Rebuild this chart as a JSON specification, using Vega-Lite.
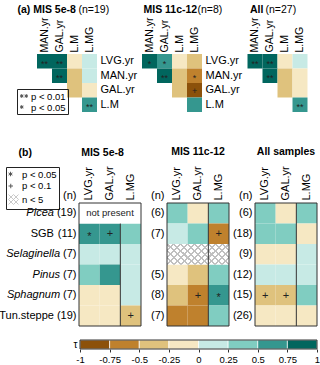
{
  "$schema": "https://vega.github.io/schema/vega-lite/v6.json",
  "autosize": "none",
  "padding": {"left": 79, "top": 54, "right": 241, "bottom": 311},
  "background": "white",
  "config": {
    "font": "Liberation Sans",
    "view": {"stroke": null},
    "axis": {"labelColor": "#000", "titleColor": "#000"},
    "legend": {"labelColor": "#000"},
    "title": {"color": "#000"}
  },
  "datasets": {
    "a": [
      {"p": "5e-8", "r": "LVG.yr", "c": "MAN.yr", "tau": 0.875, "sig": "**"},
      {"p": "5e-8", "r": "LVG.yr", "c": "GAL.yr", "tau": 0.875, "sig": "**"},
      {"p": "5e-8", "r": "LVG.yr", "c": "L.M", "tau": -0.125},
      {"p": "5e-8", "r": "LVG.yr", "c": "L.MG", "tau": 0.125},
      {"p": "5e-8", "r": "MAN.yr", "c": "GAL.yr", "tau": 0.875, "sig": "**"},
      {"p": "5e-8", "r": "MAN.yr", "c": "L.M", "tau": -0.375},
      {"p": "5e-8", "r": "MAN.yr", "c": "L.MG", "tau": 0.125},
      {"p": "5e-8", "r": "GAL.yr", "c": "L.M", "tau": -0.375},
      {"p": "5e-8", "r": "GAL.yr", "c": "L.MG", "tau": -0.125},
      {"p": "5e-8", "r": "L.M", "c": "L.MG", "tau": 0.625, "sig": "**"},
      {"p": "11c-12", "r": "LVG.yr", "c": "MAN.yr", "tau": 0.875, "sig": "*"},
      {"p": "11c-12", "r": "LVG.yr", "c": "GAL.yr", "tau": 0.625, "sig": "*"},
      {"p": "11c-12", "r": "LVG.yr", "c": "L.M", "tau": -0.125},
      {"p": "11c-12", "r": "LVG.yr", "c": "L.MG", "tau": -0.375},
      {"p": "11c-12", "r": "MAN.yr", "c": "GAL.yr", "tau": 0.875, "sig": "**"},
      {"p": "11c-12", "r": "MAN.yr", "c": "L.M", "tau": -0.375},
      {"p": "11c-12", "r": "MAN.yr", "c": "L.MG", "tau": -0.625, "sig": "*"},
      {"p": "11c-12", "r": "GAL.yr", "c": "L.M", "tau": -0.375},
      {"p": "11c-12", "r": "GAL.yr", "c": "L.MG", "tau": -0.875, "sig": "+"},
      {"p": "11c-12", "r": "L.M", "c": "L.MG", "tau": 0.625},
      {"p": "All", "r": "LVG.yr", "c": "MAN.yr", "tau": 0.875, "sig": "**"},
      {"p": "All", "r": "LVG.yr", "c": "GAL.yr", "tau": 0.875, "sig": "**"},
      {"p": "All", "r": "LVG.yr", "c": "L.M", "tau": -0.125},
      {"p": "All", "r": "LVG.yr", "c": "L.MG", "tau": 0.125},
      {"p": "All", "r": "MAN.yr", "c": "GAL.yr", "tau": 0.875, "sig": "**"},
      {"p": "All", "r": "MAN.yr", "c": "L.M", "tau": -0.375},
      {"p": "All", "r": "MAN.yr", "c": "L.MG", "tau": -0.125},
      {"p": "All", "r": "GAL.yr", "c": "L.M", "tau": -0.375},
      {"p": "All", "r": "GAL.yr", "c": "L.MG", "tau": -0.125},
      {"p": "All", "r": "L.M", "c": "L.MG", "tau": 0.625, "sig": "**"}
    ],
    "b": [
      {"p": "5e-8", "k": "Picea (19)", "v": null, "tau": null, "s": "np"},
      {"p": "5e-8", "k": "SGB (11)", "v": "LVG.yr", "tau": 0.625, "sig": "*"},
      {"p": "5e-8", "k": "SGB (11)", "v": "GAL.yr", "tau": 0.625, "sig": "+"},
      {"p": "5e-8", "k": "SGB (11)", "v": "L.MG", "tau": 0.375},
      {"p": "5e-8", "k": "Selaginella (7)", "v": "LVG.yr", "tau": 0.125},
      {"p": "5e-8", "k": "Selaginella (7)", "v": "GAL.yr", "tau": 0.125},
      {"p": "5e-8", "k": "Selaginella (7)", "v": "L.MG", "tau": 0.125},
      {"p": "5e-8", "k": "Pinus (7)", "v": "LVG.yr", "tau": 0.375},
      {"p": "5e-8", "k": "Pinus (7)", "v": "GAL.yr", "tau": 0.625},
      {"p": "5e-8", "k": "Pinus (7)", "v": "L.MG", "tau": 0.125},
      {"p": "5e-8", "k": "Sphagnum (7)", "v": "LVG.yr", "tau": -0.125},
      {"p": "5e-8", "k": "Sphagnum (7)", "v": "GAL.yr", "tau": -0.125},
      {"p": "5e-8", "k": "Sphagnum (7)", "v": "L.MG", "tau": 0.125},
      {"p": "5e-8", "k": "Tun.steppe (19)", "v": "LVG.yr", "tau": -0.125},
      {"p": "5e-8", "k": "Tun.steppe (19)", "v": "GAL.yr", "tau": -0.125},
      {"p": "5e-8", "k": "Tun.steppe (19)", "v": "L.MG", "tau": -0.375, "sig": "+"},
      {"p": "11c-12", "k": "Picea (6)", "v": "LVG.yr", "tau": 0.375},
      {"p": "11c-12", "k": "Picea (6)", "v": "GAL.yr", "tau": -0.125},
      {"p": "11c-12", "k": "Picea (6)", "v": "L.MG", "tau": 0.375},
      {"p": "11c-12", "k": "SGB (7)", "v": "LVG.yr", "tau": 0.125},
      {"p": "11c-12", "k": "SGB (7)", "v": "GAL.yr", "tau": 0.375},
      {"p": "11c-12", "k": "SGB (7)", "v": "L.MG", "tau": -0.625, "sig": "+"},
      {"p": "11c-12", "k": "Selaginella", "v": "LVG.yr", "tau": null, "s": "hatch"},
      {"p": "11c-12", "k": "Selaginella", "v": "GAL.yr", "tau": null, "s": "hatch"},
      {"p": "11c-12", "k": "Selaginella", "v": "L.MG", "tau": null, "s": "hatch"},
      {"p": "11c-12", "k": "Pinus (5)", "v": "LVG.yr", "tau": -0.125},
      {"p": "11c-12", "k": "Pinus (5)", "v": "GAL.yr", "tau": -0.375},
      {"p": "11c-12", "k": "Pinus (5)", "v": "L.MG", "tau": 0.375},
      {"p": "11c-12", "k": "Sphagnum (8)", "v": "LVG.yr", "tau": -0.375},
      {"p": "11c-12", "k": "Sphagnum (8)", "v": "GAL.yr", "tau": -0.625, "sig": "+"},
      {"p": "11c-12", "k": "Sphagnum (8)", "v": "L.MG", "tau": 0.625, "sig": "*"},
      {"p": "11c-12", "k": "Tun.steppe (7)", "v": "LVG.yr", "tau": -0.625},
      {"p": "11c-12", "k": "Tun.steppe (7)", "v": "GAL.yr", "tau": -0.625},
      {"p": "11c-12", "k": "Tun.steppe (7)", "v": "L.MG", "tau": 0.375},
      {"p": "All", "k": "Picea (6)", "v": "LVG.yr", "tau": 0.375},
      {"p": "All", "k": "Picea (6)", "v": "GAL.yr", "tau": -0.125},
      {"p": "All", "k": "Picea (6)", "v": "L.MG", "tau": 0.375},
      {"p": "All", "k": "SGB (18)", "v": "LVG.yr", "tau": 0.375},
      {"p": "All", "k": "SGB (18)", "v": "GAL.yr", "tau": 0.375},
      {"p": "All", "k": "SGB (18)", "v": "L.MG", "tau": -0.125},
      {"p": "All", "k": "Selaginella (9)", "v": "LVG.yr", "tau": -0.125},
      {"p": "All", "k": "Selaginella (9)", "v": "GAL.yr", "tau": -0.125},
      {"p": "All", "k": "Selaginella (9)", "v": "L.MG", "tau": 0.125},
      {"p": "All", "k": "Pinus (12)", "v": "LVG.yr", "tau": 0.125},
      {"p": "All", "k": "Pinus (12)", "v": "GAL.yr", "tau": 0.125},
      {"p": "All", "k": "Pinus (12)", "v": "L.MG", "tau": 0.125},
      {"p": "All", "k": "Sphagnum (15)", "v": "LVG.yr", "tau": -0.375, "sig": "+"},
      {"p": "All", "k": "Sphagnum (15)", "v": "GAL.yr", "tau": -0.375, "sig": "+"},
      {"p": "All", "k": "Sphagnum (15)", "v": "L.MG", "tau": 0.375},
      {"p": "All", "k": "Tun.steppe (26)", "v": "LVG.yr", "tau": -0.125},
      {"p": "All", "k": "Tun.steppe (26)", "v": "GAL.yr", "tau": -0.125},
      {"p": "All", "k": "Tun.steppe (26)", "v": "L.MG", "tau": -0.125}
    ],
    "cb": [
      {"lo": -1, "hi": -0.75, "mid": -0.875, "g": "τ"},
      {"lo": -0.75, "hi": -0.5, "mid": -0.625, "g": "τ"},
      {"lo": -0.5, "hi": -0.25, "mid": -0.375, "g": "τ"},
      {"lo": -0.25, "hi": 0, "mid": -0.125, "g": "τ"},
      {"lo": 0, "hi": 0.25, "mid": 0.125, "g": "τ"},
      {"lo": 0.25, "hi": 0.5, "mid": 0.375, "g": "τ"},
      {"lo": 0.5, "hi": 0.75, "mid": 0.625, "g": "τ"},
      {"lo": 0.75, "hi": 1, "mid": 0.875, "g": "τ"}
    ]
  },
  "columns": 3,
  "align": "none",
  "bounds": "flush",
  "spacing": {"row": 14, "column": 26},
  "resolve": {
    "scale": {"color": "shared", "shape": "independent", "stroke": "independent"},
    "legend": {"shape": "independent", "stroke": "independent"}
  },
  "concat": [
    {
      "width": 18, "height": 135,
      "data": {"name": "a"},
      "transform": [{"filter": "datum.p === '5e-8'"}],
      "layer": [
        {
          "mark": {"type": "rect"},
          "encoding": {
            "x": {"field": "c", "type": "nominal", "scale": {"domain": ["MAN.yr", "GAL.yr", "L.M", "L.MG"], "range": [-42, 18], "paddingInner": 0, "paddingOuter": 0}, "axis": {"orient": "top", "labelAngle": -90, "ticks": false, "domain": false, "labelPadding": 2, "labelFontSize": 10.5, "title": "(n=19)", "titleX": -1, "titleY": -42, "titleAngle": 0, "titleAlign": "left", "titleBaseline": "alphabetic", "titleFontWeight": "normal", "titleFontSize": 10.5}},
            "y": {"field": "r", "type": "nominal", "scale": {"domain": ["LVG.yr", "MAN.yr", "GAL.yr", "L.M"], "range": [0, 58], "paddingInner": 0, "paddingOuter": 0}, "axis": {"orient": "right", "ticks": false, "domain": false, "labelPadding": 3, "labelFontSize": 11, "title": "(a) MIS 5e-8", "titleX": -80, "titleY": -42, "titleAngle": 0, "titleAlign": "left", "titleBaseline": "alphabetic", "titleFontWeight": "bold", "titleFontSize": 10.5}},
            "color": {"field": "tau", "type": "quantitative", "scale": {"type": "threshold", "domain": [-0.75, -0.5, -0.25, 0, 0.25, 0.5, 0.75], "range": ["#8c510a", "#bf812d", "#dfc27d", "#f6e8c3", "#c7eae5", "#80cdc1", "#35978f", "#01665e"]}, "legend": null}
          }
        },
        {
          "transform": [{"filter": "datum.sig === '**' || datum.sig === '*'"}],
          "mark": {"type": "text", "fontSize": 9, "dy": 2.5, "color": "#222"},
          "encoding": {"x": {"field": "c", "type": "nominal"}, "y": {"field": "r", "type": "nominal"}, "text": {"field": "sig", "type": "nominal"}}
        },
        {
          "data": {"values": []},
          "mark": {"type": "point", "filled": false, "color": "black", "strokeWidth": 0.9},
          "encoding": {
            "shape": {"field": "lab", "type": "nominal", "scale": {"domain": ["p < 0.01", "p < 0.05"], "range": ["M-0.55,-0.5L-0.55,0.3M-0.896,-0.3L-0.204,0.1M-0.896,0.1L-0.204,-0.3M0.35,-0.5L0.35,0.3M0.004,-0.3L0.696,0.1M0.004,0.1L0.696,-0.3", "M-0.55,-0.5L-0.55,0.3M-0.896,-0.3L-0.204,0.1M-0.896,0.1L-0.204,-0.3"]},
              "legend": {"orient": "none", "legendX": -62, "legendY": 35, "title": null, "strokeColor": "#222", "padding": 2, "labelFontSize": 9.5, "symbolSize": 100, "symbolStrokeWidth": 0.9, "symbolStrokeColor": "black", "rowPadding": 1, "labelOffset": 1}}
          }
        }
      ]
    },
    {
      "width": 35, "height": 135,
      "data": {"name": "a"},
      "transform": [{"filter": "datum.p === '11c-12'"}],
      "layer": [
        {
          "mark": {"type": "rect"},
          "encoding": {
            "x": {"field": "c", "type": "nominal", "scale": {"domain": ["MAN.yr", "GAL.yr", "L.M", "L.MG"], "range": [-25, 35], "paddingInner": 0, "paddingOuter": 0}, "axis": {"orient": "top", "labelAngle": -90, "ticks": false, "domain": false, "labelPadding": 2, "labelFontSize": 10.5, "title": "(n=8)", "titleX": 30, "titleY": -42, "titleAngle": 0, "titleAlign": "left", "titleBaseline": "alphabetic", "titleFontWeight": "normal", "titleFontSize": 10.5}},
            "y": {"field": "r", "type": "nominal", "scale": {"domain": ["LVG.yr", "MAN.yr", "GAL.yr", "L.M"], "range": [0, 58], "paddingInner": 0, "paddingOuter": 0}, "axis": {"orient": "right", "ticks": false, "domain": false, "labelPadding": 3, "labelFontSize": 11, "title": "MIS 11c-12", "titleX": -59, "titleY": -42, "titleAngle": 0, "titleAlign": "left", "titleBaseline": "alphabetic", "titleFontWeight": "bold", "titleFontSize": 10.5}},
            "color": {"field": "tau", "type": "quantitative", "scale": {"type": "threshold", "domain": [-0.75, -0.5, -0.25, 0, 0.25, 0.5, 0.75], "range": ["#8c510a", "#bf812d", "#dfc27d", "#f6e8c3", "#c7eae5", "#80cdc1", "#35978f", "#01665e"]}, "legend": null}
          }
        },
        {
          "transform": [{"filter": "datum.sig === '**' || datum.sig === '*'"}],
          "mark": {"type": "text", "fontSize": 9, "dy": 2.5, "color": "#222"},
          "encoding": {"x": {"field": "c", "type": "nominal"}, "y": {"field": "r", "type": "nominal"}, "text": {"field": "sig", "type": "nominal"}}
        },
        {
          "transform": [{"filter": "datum.sig === '+'"}],
          "mark": {"type": "text", "fontSize": 9, "dy": 0.5, "color": "#222"},
          "encoding": {"x": {"field": "c", "type": "nominal"}, "y": {"field": "r", "type": "nominal"}, "text": {"field": "sig", "type": "nominal"}}
        }
      ]
    },
    {
      "width": 52.5, "height": 135,
      "data": {"name": "a"},
      "transform": [{"filter": "datum.p === 'All'"}],
      "layer": [
        {
          "mark": {"type": "rect"},
          "encoding": {
            "x": {"field": "c", "type": "nominal", "scale": {"domain": ["MAN.yr", "GAL.yr", "L.M", "L.MG"], "range": [-7.5, 52.5], "paddingInner": 0, "paddingOuter": 0}, "axis": {"orient": "top", "labelAngle": -90, "ticks": false, "domain": false, "labelPadding": 2, "labelFontSize": 10.5, "title": "(n=27)", "titleX": 10, "titleY": -42, "titleAngle": 0, "titleAlign": "left", "titleBaseline": "alphabetic", "titleFontWeight": "normal", "titleFontSize": 10.5}},
            "y": {"field": "r", "type": "nominal", "scale": {"domain": ["LVG.yr", "MAN.yr", "GAL.yr", "L.M"], "range": [0, 58], "paddingInner": 0, "paddingOuter": 0}, "axis": {"orient": "right", "labels": false, "ticks": false, "domain": false, "title": "All", "titleX": -58, "titleY": -42, "titleAngle": 0, "titleAlign": "left", "titleBaseline": "alphabetic", "titleFontWeight": "bold", "titleFontSize": 10.5}},
            "color": {"field": "tau", "type": "quantitative", "scale": {"type": "threshold", "domain": [-0.75, -0.5, -0.25, 0, 0.25, 0.5, 0.75], "range": ["#8c510a", "#bf812d", "#dfc27d", "#f6e8c3", "#c7eae5", "#80cdc1", "#35978f", "#01665e"]}, "legend": null}
          }
        },
        {
          "transform": [{"filter": "datum.sig === '**' || datum.sig === '*'"}],
          "mark": {"type": "text", "fontSize": 9, "dy": 2.5, "color": "#222"},
          "encoding": {"x": {"field": "c", "type": "nominal"}, "y": {"field": "r", "type": "nominal"}, "text": {"field": "sig", "type": "nominal"}}
        }
      ]
    },
    {
      "width": 62, "height": 123,
      "data": {"name": "b"},
      "transform": [{"filter": "datum.p === '5e-8'"}],
      "resolve": {"axis": {"y": "independent"}},
      "layer": [
        {
          "transform": [{"filter": "isValid(datum.tau)"}],
          "mark": {"type": "rect"},
          "encoding": {
            "x": {"field": "v", "type": "nominal", "scale": {"domain": ["LVG.yr", "GAL.yr", "L.MG"], "paddingInner": 0, "paddingOuter": 0}, "axis": {"orient": "top", "labelAngle": -90, "ticks": false, "domain": false, "labelPadding": 3, "labelFontSize": 11, "title": "(b)", "titleX": -61, "titleY": -48, "titleAngle": 0, "titleAlign": "left", "titleBaseline": "alphabetic", "titleFontWeight": "bold", "titleFontSize": 10.5}},
            "y": {"field": "k", "type": "nominal", "scale": {"domain": ["Picea (19)", "SGB (11)", "Selaginella (7)", "Pinus (7)", "Sphagnum (7)", "Tun.steppe (19)"], "paddingInner": 0, "paddingOuter": 0}, "axis": {"orient": "left", "ticks": false, "domain": false, "labelPadding": 3, "labelFontSize": 11, "labelExpr": "indexof(datum.value,'(') < 0 ? '' : substring(datum.value, indexof(datum.value,'('))", "title": "(n)", "titleAngle": 0, "titleAlign": "right", "titleBaseline": "bottom", "titleX": -3, "titleY": -3, "titleFontWeight": "normal", "titleFontSize": 11}},
            "color": {"field": "tau", "type": "quantitative", "scale": {"type": "threshold", "domain": [-0.75, -0.5, -0.25, 0, 0.25, 0.5, 0.75], "range": ["#8c510a", "#bf812d", "#dfc27d", "#f6e8c3", "#c7eae5", "#80cdc1", "#35978f", "#01665e"]}, "legend": null}
          }
        },
        {
          "data": {"values": [{"v": "L.MG"}]},
          "mark": {"type": "rule", "color": "#333", "strokeWidth": 1},
          "encoding": {"x": {"field": "v", "type": "nominal", "bandPosition": 0}}
        },
        {
          "transform": [{"filter": "datum.s === 'np'"}],
          "mark": {"type": "rect", "fill": "white"},
          "encoding": {"y": {"field": "k", "type": "nominal", "axis": null}}
        },
        {
          "transform": [{"filter": "datum.s === 'np'"}],
          "mark": {"type": "text", "text": "not present", "fontSize": 9.5, "color": "#222"},
          "encoding": {"y": {"field": "k", "type": "nominal", "axis": null}}
        },
        {
          "transform": [{"filter": "datum.sig === '*'"}],
          "mark": {"type": "text", "fontSize": 11, "dy": 3, "color": "#222"},
          "encoding": {
            "x": {"field": "v", "type": "nominal"},
            "y": {"field": "k", "type": "nominal", "axis": {"orient": "left", "ticks": false, "domain": false, "labelFontSize": 11,
              "title": "MIS 5e-8", "titleX": 23, "titleY": -48, "titleAngle": 0, "titleAlign": "center", "titleBaseline": "alphabetic", "titleFontWeight": "bold", "titleFontSize": 10.5,
              "labelPadding": {"condition": {"test": "length(datum.value) - indexof(datum.value,' (') >= 5", "value": 25.6}, "value": 19.4},
              "labelExpr": "indexof(datum.value,' (') < 0 ? datum.value : substring(datum.value, 0, indexof(datum.value,' ('))",
              "labelFontStyle": {"condition": {"test": "indexof(datum.value,'SGB') < 0 && indexof(datum.value,'Tun') < 0", "value": "italic"}, "value": "normal"}}},
            "text": {"field": "sig", "type": "nominal"}
          }
        },
        {
          "transform": [{"filter": "datum.sig === '+'"}],
          "mark": {"type": "text", "fontSize": 11, "dy": 0.5, "color": "#222"},
          "encoding": {"x": {"field": "v", "type": "nominal"}, "y": {"field": "k", "type": "nominal", "axis": null}, "text": {"field": "sig", "type": "nominal"}}
        },
        {
          "data": {"values": [{}]},
          "mark": {"type": "rect", "filled": false, "stroke": "#333", "strokeWidth": 1},
          "encoding": {}
        },
        {
          "data": {"values": []},
          "mark": {"type": "point", "filled": false, "strokeWidth": 0.9},
          "encoding": {
            "shape": {"field": "lab", "type": "nominal", "scale": {"domain": ["p < 0.05", "p < 0.1", "n < 5"], "range": ["M-0.6,-0.55L-0.6,0.35M-0.99,-0.325L-0.21,0.125M-0.99,0.125L-0.21,-0.325", "M-1,0L-0.1,0M-0.55,-0.45L-0.55,0.45", "M-1,0L0,-1M-1,1L1,-1M0,1L1,0M-1,0L0,1M-1,-1L1,1M0,-1L1,0"]},
              "legend": {"orient": "none", "legendX": -73, "legendY": -36, "title": null, "strokeColor": "#222", "padding": 2, "labelFontSize": 9.5, "symbolSize": 100, "symbolStrokeWidth": 0.9, "rowPadding": 1.5, "labelOffset": 3}},
            "stroke": {"field": "lab", "type": "nominal", "scale": {"domain": ["p < 0.05", "p < 0.1", "n < 5"], "range": ["#000000", "#000000", "#aaaaaa"]},
              "legend": {"orient": "none", "legendX": -73, "legendY": -36, "title": null, "strokeColor": "#222", "padding": 2, "labelFontSize": 9.5, "symbolSize": 100, "symbolStrokeWidth": 0.9, "rowPadding": 1.5, "labelOffset": 3}}
          }
        }
      ]
    },
    {
      "width": 62, "height": 123,
      "title": {"text": "MIS 11c-12", "anchor": "middle", "frame": "group", "fontSize": 10.5, "offset": 8},
      "data": {"name": "b"},
      "transform": [{"filter": "datum.p === '11c-12'"}],
      "layer": [
        {
          "transform": [{"filter": "isValid(datum.tau)"}],
          "mark": {"type": "rect"},
          "encoding": {
            "x": {"field": "v", "type": "nominal", "scale": {"domain": ["LVG.yr", "GAL.yr", "L.MG"], "paddingInner": 0, "paddingOuter": 0}, "axis": {"orient": "top", "labelAngle": -90, "ticks": false, "domain": false, "labelPadding": 3, "labelFontSize": 11, "title": null}},
            "y": {"field": "k", "type": "nominal", "scale": {"domain": ["Picea (6)", "SGB (7)", "Selaginella", "Pinus (5)", "Sphagnum (8)", "Tun.steppe (7)"], "paddingInner": 0, "paddingOuter": 0}, "axis": {"orient": "left", "ticks": false, "domain": false, "labelPadding": 3, "labelFontSize": 11, "labelExpr": "indexof(datum.value,'(') < 0 ? '' : substring(datum.value, indexof(datum.value,'('))", "title": "(n)", "titleAngle": 0, "titleAlign": "right", "titleBaseline": "bottom", "titleX": -3, "titleY": -3, "titleFontWeight": "normal", "titleFontSize": 11}},
            "color": {"field": "tau", "type": "quantitative", "scale": {"type": "threshold", "domain": [-0.75, -0.5, -0.25, 0, 0.25, 0.5, 0.75], "range": ["#8c510a", "#bf812d", "#dfc27d", "#f6e8c3", "#c7eae5", "#80cdc1", "#35978f", "#01665e"]}, "legend": null}
          }
        },
        {
          "transform": [{"filter": "datum.s === 'hatch'"}],
          "mark": {"type": "rect", "fill": "white"},
          "encoding": {"x": {"field": "v", "type": "nominal"}, "y": {"field": "k", "type": "nominal"}}
        },
        {
          "transform": [{"filter": "datum.s === 'hatch'"}],
          "mark": {"type": "rect", "fill": {"gradient": "linear", "x1": 0, "y1": 0, "x2": 1, "y2": 1, "stops": [
            {"offset": 0, "color": "#c0c0c0"}, {"offset": 0.025, "color": "#c0c0c0"}, {"offset": 0.025, "color": "rgba(255,255,255,0)"},
            {"offset": 0.142, "color": "rgba(255,255,255,0)"}, {"offset": 0.142, "color": "#c0c0c0"}, {"offset": 0.192, "color": "#c0c0c0"}, {"offset": 0.192, "color": "rgba(255,255,255,0)"},
            {"offset": 0.308, "color": "rgba(255,255,255,0)"}, {"offset": 0.308, "color": "#c0c0c0"}, {"offset": 0.358, "color": "#c0c0c0"}, {"offset": 0.358, "color": "rgba(255,255,255,0)"},
            {"offset": 0.475, "color": "rgba(255,255,255,0)"}, {"offset": 0.475, "color": "#c0c0c0"}, {"offset": 0.525, "color": "#c0c0c0"}, {"offset": 0.525, "color": "rgba(255,255,255,0)"},
            {"offset": 0.642, "color": "rgba(255,255,255,0)"}, {"offset": 0.642, "color": "#c0c0c0"}, {"offset": 0.692, "color": "#c0c0c0"}, {"offset": 0.692, "color": "rgba(255,255,255,0)"},
            {"offset": 0.808, "color": "rgba(255,255,255,0)"}, {"offset": 0.808, "color": "#c0c0c0"}, {"offset": 0.858, "color": "#c0c0c0"}, {"offset": 0.858, "color": "rgba(255,255,255,0)"},
            {"offset": 0.975, "color": "rgba(255,255,255,0)"}, {"offset": 0.975, "color": "#c0c0c0"}, {"offset": 1, "color": "#c0c0c0"}]}},
          "encoding": {"x": {"field": "v", "type": "nominal"}, "y": {"field": "k", "type": "nominal"}}
        },
        {
          "transform": [{"filter": "datum.s === 'hatch'"}],
          "mark": {"type": "rect", "fill": {"gradient": "linear", "x1": 1, "y1": 0, "x2": 0, "y2": 1, "stops": [
            {"offset": 0, "color": "#c0c0c0"}, {"offset": 0.025, "color": "#c0c0c0"}, {"offset": 0.025, "color": "rgba(255,255,255,0)"},
            {"offset": 0.142, "color": "rgba(255,255,255,0)"}, {"offset": 0.142, "color": "#c0c0c0"}, {"offset": 0.192, "color": "#c0c0c0"}, {"offset": 0.192, "color": "rgba(255,255,255,0)"},
            {"offset": 0.308, "color": "rgba(255,255,255,0)"}, {"offset": 0.308, "color": "#c0c0c0"}, {"offset": 0.358, "color": "#c0c0c0"}, {"offset": 0.358, "color": "rgba(255,255,255,0)"},
            {"offset": 0.475, "color": "rgba(255,255,255,0)"}, {"offset": 0.475, "color": "#c0c0c0"}, {"offset": 0.525, "color": "#c0c0c0"}, {"offset": 0.525, "color": "rgba(255,255,255,0)"},
            {"offset": 0.642, "color": "rgba(255,255,255,0)"}, {"offset": 0.642, "color": "#c0c0c0"}, {"offset": 0.692, "color": "#c0c0c0"}, {"offset": 0.692, "color": "rgba(255,255,255,0)"},
            {"offset": 0.808, "color": "rgba(255,255,255,0)"}, {"offset": 0.808, "color": "#c0c0c0"}, {"offset": 0.858, "color": "#c0c0c0"}, {"offset": 0.858, "color": "rgba(255,255,255,0)"},
            {"offset": 0.975, "color": "rgba(255,255,255,0)"}, {"offset": 0.975, "color": "#c0c0c0"}, {"offset": 1, "color": "#c0c0c0"}]}},
          "encoding": {"x": {"field": "v", "type": "nominal"}, "y": {"field": "k", "type": "nominal"}}
        },
        {
          "data": {"values": [{"v": "L.MG"}]},
          "mark": {"type": "rule", "color": "#333", "strokeWidth": 1},
          "encoding": {"x": {"field": "v", "type": "nominal", "bandPosition": 0}}
        },
        {
          "transform": [{"filter": "datum.sig === '*'"}],
          "mark": {"type": "text", "fontSize": 11, "dy": 3, "color": "#222"},
          "encoding": {"x": {"field": "v", "type": "nominal"}, "y": {"field": "k", "type": "nominal"}, "text": {"field": "sig", "type": "nominal"}}
        },
        {
          "transform": [{"filter": "datum.sig === '+'"}],
          "mark": {"type": "text", "fontSize": 11, "dy": 0.5, "color": "#222"},
          "encoding": {"x": {"field": "v", "type": "nominal"}, "y": {"field": "k", "type": "nominal"}, "text": {"field": "sig", "type": "nominal"}}
        },
        {
          "data": {"values": [{}]},
          "mark": {"type": "rect", "filled": false, "stroke": "#333", "strokeWidth": 1},
          "encoding": {}
        }
      ]
    },
    {
      "width": 62, "height": 123,
      "title": {"text": "All samples", "anchor": "middle", "frame": "group", "fontSize": 10.5, "offset": 8},
      "data": {"name": "b"},
      "transform": [{"filter": "datum.p === 'All'"}],
      "layer": [
        {
          "transform": [{"filter": "isValid(datum.tau)"}],
          "mark": {"type": "rect"},
          "encoding": {
            "x": {"field": "v", "type": "nominal", "scale": {"domain": ["LVG.yr", "GAL.yr", "L.MG"], "paddingInner": 0, "paddingOuter": 0}, "axis": {"orient": "top", "labelAngle": -90, "ticks": false, "domain": false, "labelPadding": 3, "labelFontSize": 11, "title": null}},
            "y": {"field": "k", "type": "nominal", "scale": {"domain": ["Picea (6)", "SGB (18)", "Selaginella (9)", "Pinus (12)", "Sphagnum (15)", "Tun.steppe (26)"], "paddingInner": 0, "paddingOuter": 0}, "axis": {"orient": "left", "ticks": false, "domain": false, "labelPadding": 3, "labelFontSize": 11, "labelExpr": "indexof(datum.value,'(') < 0 ? '' : substring(datum.value, indexof(datum.value,'('))", "title": "(n)", "titleAngle": 0, "titleAlign": "right", "titleBaseline": "bottom", "titleX": -3, "titleY": -3, "titleFontWeight": "normal", "titleFontSize": 11}},
            "color": {"field": "tau", "type": "quantitative", "scale": {"type": "threshold", "domain": [-0.75, -0.5, -0.25, 0, 0.25, 0.5, 0.75], "range": ["#8c510a", "#bf812d", "#dfc27d", "#f6e8c3", "#c7eae5", "#80cdc1", "#35978f", "#01665e"]}, "legend": null}
          }
        },
        {
          "data": {"values": [{"v": "L.MG"}]},
          "mark": {"type": "rule", "color": "#333", "strokeWidth": 1},
          "encoding": {"x": {"field": "v", "type": "nominal", "bandPosition": 0}}
        },
        {
          "transform": [{"filter": "datum.sig === '+'"}],
          "mark": {"type": "text", "fontSize": 11, "dy": 0.5, "color": "#222"},
          "encoding": {"x": {"field": "v", "type": "nominal"}, "y": {"field": "k", "type": "nominal"}, "text": {"field": "sig", "type": "nominal"}}
        },
        {
          "data": {"values": [{}]},
          "mark": {"type": "rect", "filled": false, "stroke": "#333", "strokeWidth": 1},
          "encoding": {}
        }
      ]
    },
    {
      "width": 62, "height": 9,
      "data": {"name": "cb"},
      "layer": [
        {
          "mark": {"type": "rect", "stroke": "white", "strokeWidth": 0.7},
          "encoding": {
            "x": {"field": "lo", "type": "quantitative", "scale": {"domain": [-1, 1], "range": [1, 238], "nice": false, "zero": false}, "axis": {"values": [-1, -0.75, -0.5, -0.25, 0, 0.25, 0.5, 0.75, 1], "labelExpr": "'' + datum.value", "title": null, "domain": false, "grid": false, "tickSize": 3, "tickColor": "#333", "labelFontSize": 9.5, "labelPadding": 2, "labelFlush": false, "labelOverlap": false}},
            "x2": {"field": "hi"},
            "y": {"field": "g", "type": "nominal", "scale": {"paddingInner": 0, "paddingOuter": 0}, "axis": {"title": null, "ticks": false, "domain": false, "offset": -1, "labelPadding": 3, "labelFontSize": 10, "labelAngle": 0}},
            "color": {"field": "mid", "type": "quantitative", "scale": {"type": "threshold", "domain": [-0.75, -0.5, -0.25, 0, 0.25, 0.5, 0.75], "range": ["#8c510a", "#bf812d", "#dfc27d", "#f6e8c3", "#c7eae5", "#80cdc1", "#35978f", "#01665e"]}, "legend": null}
          }
        },
        {
          "data": {"values": [{}]},
          "mark": {"type": "rect", "filled": false, "stroke": "#333", "strokeWidth": 1},
          "encoding": {
            "x": {"datum": -1, "type": "quantitative", "axis": {"values": [-1, -0.75, -0.5, -0.25, 0, 0.25, 0.5, 0.75, 1], "labelExpr": "'' + datum.value", "title": null, "domain": false, "grid": false, "tickSize": 3, "tickColor": "#333", "labelFontSize": 9.5, "labelPadding": 2, "labelFlush": false, "labelOverlap": false}},
            "x2": {"datum": 1}
          }
        }
      ]
    }
  ]
}
